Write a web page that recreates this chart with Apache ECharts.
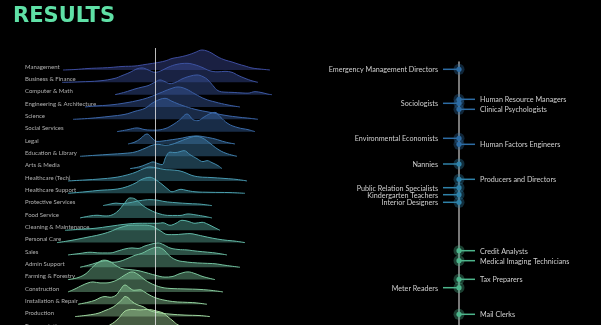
<!DOCTYPE html>
<html><head><meta charset="utf-8">
<script src="https://cdn.jsdelivr.net/npm/echarts@6/dist/echarts.min.js"></script>
<style>html,body{margin:0;padding:0;background:#000;}#c{width:601px;height:325px;}</style>
</head><body><div id="c"></div>
<script>
// ---- Left panel: ridgeline data (x = score units, h = density height) ----
const categories = ['Management','Business & Finance','Computer & Math','Engineering & Architecture','Science','Social Services','Legal','Education & Library','Arts & Media','Healthcare (Tech)','Healthcare Support','Protective Services','Food Service','Cleaning & Maintenance','Personal Care','Sales','Admin Support','Farming & Forestry','Construction','Installation & Repair','Production','Transportation'];

const management = [[63,0],[75,0.5],[88,1.5],[100,2],[110,2.5],[122,3.5],[135,4],[145,5.5],[155,7],[165,9],[172,11.5],[180,13],[188,15],[195,17.5],[202,20],[207,19],[212,16.7],[218,13],[225,10],[232,8],[238,6],[245,4],[252,2],[260,1],[270,0]];
const business = [[62,0],[80,0.5],[100,1.5],[115,4],[122,6.7],[130,10],[137,13.5],[142,14.4],[148,12.5],[155,10],[162,12],[168,15],[177,18],[187,19],[195,17.5],[202,15],[210,11.5],[218,10.5],[225,11],[232,10],[238,7],[245,4],[252,1.5],[258,0]];
const computer = [[115,0],[125,2.5],[135,5.7],[142,7.5],[148,9],[155,12.5],[160,14.7],[165,13],[170,11],[176,12.5],[182,15.7],[190,18.5],[197,19.7],[203,18],[208,14.7],[213,9],[218,4],[225,2.5],[232,2.3],[240,1.8],[248,1.5],[255,3],[262,2],[268,0.5],[272,0]];
const engineering = [[85,0],[95,1],[110,2],[125,4],[140,7],[150,10],[160,14],[170,18],[178,20],[186,18],[195,13],[205,8],[215,5],[228,2],[240,0]];
const science = [[73,0],[90,1],[110,3],[125,5],[135,8],[145,11],[152,16],[160,20],[165,21],[172,18],[182,14],[195,10],[210,7],[225,4],[240,2],[250,1],[258,0]];
const social = [[117,0],[128,2],[137,3.7],[145,2],[155,1.5],[165,3],[173,7],[180,12],[187,17.7],[193,12],[198,11],[203,14],[210,18],[215,19.3],[220,15],[228,8],[238,4],[248,2],[255,0]];
const legal = [[128,0],[135,2],[140,5],[147,10],[152,6],[157,2.5],[163,3],[170,4],[180,5.5],[190,7.5],[197,8],[205,7],[215,5],[225,2],[235,0]];
const education = [[80,0],[95,1],[110,2],[125,3],[135,4.3],[145,8],[152,11],[158,12],[165,11],[172,12],[180,15],[188,18],[196,20],[203,18],[210,13],[218,7],[226,3],[237,0]];
const arts = [[130,0],[140,2],[148,5],[153,6.7],[158,5],[162,4],[166,12],[170,16.5],[175,16],[180,17],[184,18],[190,14],[197,10],[203,7],[207,8],[212,6],[218,3],[222,0]];
const hcTech = [[68,0],[85,1],[100,2],[115,3.5],[125,5.5],[135,8.5],[143,12],[150,14],[157,13],[164,11.5],[172,11],[180,10],[186,8],[192,5.5],[200,4],[210,3.5],[225,2.5],[237,1.5],[247,0]];
const hcSupport = [[68,0],[85,1.5],[100,3],[115,4],[125,6],[135,10],[142,14],[150,16],[155,14],[162,9],[168,4],[172,1.5],[177,3],[181,4],[186,3],[195,1.5],[210,1],[230,0.7],[245,0]];
const protective = [[103,0],[110,1.5],[116,2.5],[122,2],[130,3],[140,5],[150,6],[157,5.5],[165,4],[175,3],[190,2],[200,1.5],[212,0]];
const food = [[80,0],[90,2],[97,2.7],[105,2],[112,3],[118,7],[124,14],[130,20],[135,19],[142,13],[150,8],[160,4],[170,2.5],[180,2.5],[188,4],[196,3],[205,1.5],[212,0]];
const cleaning = [[65,0],[80,1],[95,2],[110,4],[125,6],[140,7],[150,7],[158,7],[163,7.5],[170,5],[176,7],[182,10],[188,9],[195,7],[202,8],[208,6],[214,3],[220,0]];
const personal = [[57,0],[70,2],[88,5.5],[100,8],[110,11],[120,15],[132,17.5],[142,17.5],[152,16.5],[160,12],[168,8],[175,8],[182,8.5],[190,9],[196,8],[205,6],[215,4],[225,2.5],[235,1.5],[245,0]];
const sales = [[68,0],[80,1.5],[90,2.7],[100,2],[110,2],[118,4],[125,6],[132,7],[138,6.5],[145,9],[152,11],[158,12],[164,10],[170,7],[178,5.5],[187,5],[195,4],[205,3],[215,2],[227,0]];
const admin = [[80,0],[90,2.5],[100,5.5],[106,6.5],[112,5],[120,6],[128,9],[135,12],[142,14],[150,18],[157,20],[163,18],[170,11],[177,7],[185,5.5],[195,4.5],[205,4],[215,3.5],[225,2],[240,0]];
const farming = [[68,0],[78,2],[86,6],[92,12],[98,17],[104,19.5],[110,18],[116,14],[122,11],[130,10],[138,9],[146,7],[155,4.5],[165,2.5],[172,3],[180,6],[188,7.7],[195,6],[203,3],[215,0]];
const construction = [[68,0],[75,3],[82,6.5],[88,9],[93,10],[100,9],[106,9],[112,10],[118,12.5],[125,17],[132,20],[138,17.5],[145,12],[150,9],[155,6.7],[162,4.5],[170,3.5],[185,3],[200,2.5],[212,1.5],[223,0]];
const installation = [[78,0],[88,2],[95,4],[100,6.5],[105,7.7],[110,7],[116,9],[120,14],[125,19.3],[130,16],[134,14],[140,14.5],[145,12],[150,9],[157,6],[165,4],[175,2.5],[185,2],[195,1.5],[207,0]];
const production = [[75,0],[88,1.5],[98,3.3],[105,6],[112,9],[118,13.3],[122,17],[125,20],[128,19],[132,15],[137,12],[143,10],[150,6],[158,4],[170,2.5],[185,1.5],[200,1],[210,0]];
const transportation = [[100,0],[110,4],[118,10],[124,17],[128,19],[133,19.5],[140,19],[147,19.5],[152,19],[158,17.5],[163,16],[168,12],[173,8],[178,4],[185,2],[195,0]];

const ridges = [management, business, computer, engineering, science, social, legal, education, arts, hcTech, hcSupport, protective, food, cleaning, personal, sales, admin, farming, construction, installation, production, transportation];
const referenceValue = 155.5;

// ---- Right panel: occupations ----
const rightNames = ['Emergency Management Directors','Human Resource Managers','Sociologists','Clinical Psychologists','Environmental Economists','Human Factors Engineers','Nannies','Producers and Directors','Public Relation Specialists','Kindergarten Teachers','Interior Designers','Credit Analysts','Medical Imaging Technicians','Tax Preparers','Meter Readers','Mail Clerks'];
const rightValues = [7.3, 37.3, 41.3, 47.3, 76.3, 82.3, 102, 117.3, 125.7, 132.7, 140.3, 188.7, 198.7, 217.3, 225.7, 252.3];
const rightSides = [-1, 1, -1, 1, -1, 1, -1, 1, -1, -1, -1, 1, 1, 1, -1, 1];
const rightGroups = [0, 0, 0, 0, 0, 0, 1, 1, 1, 1, 1, 2, 2, 2, 2, 2];

// ---- styling ----
const ROW = 12.33;
const stops = [[0,[61,76,158]],[0.25,[58,108,170]],[0.45,[72,156,176]],[0.62,[90,180,168]],[0.8,[120,196,156]],[1,[170,220,160]]];
function colorAt(t){
  for(let k=0;k<stops.length-1;k++){
    const a=stops[k], b=stops[k+1];
    if(t<=b[0]){const f=(t-a[0])/(b[0]-a[0]);return a[1].map((v,j)=>Math.round(v+(b[1][j]-v)*f));}
  }
  return stops[stops.length-1][1];
}
const groupColors = ['#2d6ca4','#2f82a9','#4db58b'];

const series = [];
ridges.forEach((pts, i) => {
  const base = -i * ROW;
  const c = colorAt(i / (ridges.length - 1));
  series.push({
    type: 'line', xAxisIndex: 0, yAxisIndex: 0, silent: true, clip: false,
    data: pts.map(p => [p[0], base + p[1]]),
    smooth: 0.4, symbol: 'none', z: 2,
    lineStyle: { color: 'rgb(' + c.join(',') + ')', width: 1 },
    areaStyle: { color: 'rgba(' + c.join(',') + ',0.6)', origin: base }
  });
});
series.push({
  type: 'line', xAxisIndex: 0, yAxisIndex: 0, silent: true, symbol: 'none', z: 6,
  data: [[referenceValue, 22], [referenceValue, -255]],
  lineStyle: { color: 'rgba(235,235,235,0.8)', width: 1 }
});
series.push({
  type: 'scatter', xAxisIndex: 0, yAxisIndex: 0, silent: true, symbolSize: 0, z: 1, clip: false,
  data: categories.map((n, i) => ({ name: n, value: [25, -i * ROW + 3.3] })),
  label: { show: true, position: 'right', distance: 0, formatter: '{b}', color: '#d8d8d8', fontSize: 6, fontFamily: 'Lato' }
});
series.push({
  type: 'custom', xAxisIndex: 1, yAxisIndex: 1, silent: true, z: 5,
  data: rightValues.map((v, i) => [0, v, rightSides[i], rightGroups[i]]),
  renderItem: function (params, api) {
    const p = api.coord([0, api.value(1)]);
    const side = api.value(2);
    const c = groupColors[api.value(3)];
    return { type: 'group', children: [
      { type: 'line', shape: { x1: p[0], y1: p[1], x2: p[0] + side * 16, y2: p[1] }, style: { stroke: c, lineWidth: 1.5 } },
      { type: 'circle', shape: { cx: p[0], cy: p[1], r: 5.5 }, style: { fill: c, opacity: 0.35 } },
      { type: 'circle', shape: { cx: p[0], cy: p[1], r: 2.6 }, style: { fill: c } },
      { type: 'text', style: { text: rightNames[params.dataIndex], x: p[0] + side * 21, y: p[1] + 0.5,
          align: side < 0 ? 'right' : 'left', verticalAlign: 'middle', fill: '#cfcfcf', fontSize: 7.2, fontFamily: 'Lato' } }
    ]};
  }
});

const chart = echarts.init(document.getElementById('c'));
chart.setOption({
  backgroundColor: '#000',
  animation: false,
  title: { text: 'RESULTS', left: 8, top: 1, textStyle: { color: '#5fe0a6', fontSize: 21, fontWeight: 'bold', fontFamily: 'DejaVu Sans' } },
  grid: [
    { left: 25, top: 18, width: 280, height: 307, containLabel: false },
    { left: 459, top: 62, width: 100, height: 263, containLabel: false }
  ],
  xAxis: [
    { type: 'value', gridIndex: 0, min: 25, max: 305, show: false },
    { type: 'value', gridIndex: 1, min: 0, max: 1, show: false }
  ],
  yAxis: [
    { type: 'value', gridIndex: 0, min: -255, max: 52, show: false },
    { type: 'value', gridIndex: 1, min: 0, max: 263, inverse: true, position: 'left',
      axisLine: { show: true, onZero: false, lineStyle: { color: '#a0a0a0', width: 1.5 } },
      axisTick: { show: false }, axisLabel: { show: false }, splitLine: { show: false } }
  ],
  series: series
});
</script>
</body></html>
